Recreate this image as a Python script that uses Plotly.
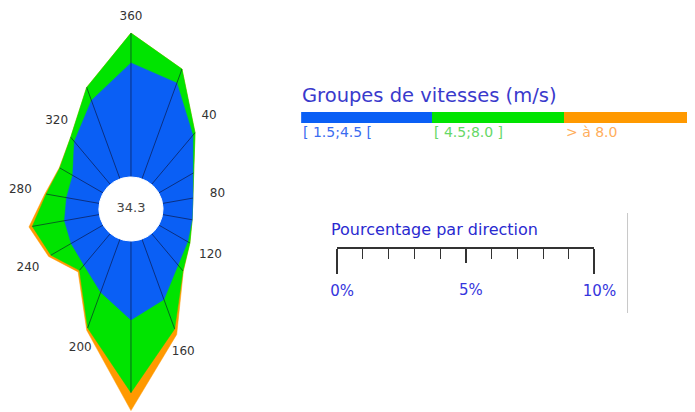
import numpy as np
import plotly.graph_objects as go

# ---------------- data ----------------
directions = [0, 20, 40, 60, 80, 100, 120, 140, 160, 180, 200, 220, 240, 260, 280, 300, 320, 340]
label_dirs = [0, 40, 80, 120, 160, 200, 240, 280, 320]
label_texts = ["360", "40", "80", "120", "160", "200", "240", "280", "320"]
# percentage per direction for each speed class
speed_low = [4.44, 3.97, 2.50, 1.54, 1.20, 1.17, 1.30, 1.60, 2.50, 3.07, 2.20, 1.60, 1.44, 1.38, 1.30, 1.37, 2.18, 3.25]
speed_mid = [1.16, 0.58, 0.13, 0.02, 0.00, 0.00, 0.10, 0.30, 1.22, 2.83, 1.48, 0.27, 0.91, 1.27, 0.80, 0.58, 0.22, 0.54]
speed_high = [0.00, 0.00, 0.00, 0.00, 0.00, 0.00, 0.00, 0.02, 0.23, 0.70, 0.10, 0.08, 0.10, 0.13, 0.05, 0.02, 0.00, 0.00]
calm_pct = 34.3
class_labels = ["[ 1.5;4.5 [", "[ 4.5;8.0 ]", "> à 8.0"]
class_colors = ["#0a5ff5", "#00e400", "#ff9900"]
class_label_colors = ["#3a6cf0", "#66d866", "#ffae5c"]
scale_major = [0, 10]
scale_mid = [5]
legend_title = "Groupes de vitesses (m/s)"
scale_title = "Pourcentage par direction"

# ---------------- geometry / style ----------------
OFF = 8                    # default body margin of the html page
SX, X0 = 0.958, 6.5        # observed horizontal page -> picture mapping
W, H = 709, 404
FONT = "DejaVu Sans"
ppp = 25.7                 # picture pixels per percent
hole_r = 32 / ppp          # calm circle radius (percent units)
rose_cx, rose_cy = 130, 209  # rose centre in the picture


def fig_x(img_x):  # picture px -> figure px
    return (img_x - X0) / SX - OFF


def px(img_x):  # picture px -> paper x
    return fig_x(img_x) / W


def py(img_y):  # picture px -> paper y
    return 1 - (img_y - OFF) / H


cx, cy = fig_x(rose_cx), rose_cy - OFF
pppx = ppp / SX            # horizontal figure px per percent

low = np.array(speed_low)
cum_mid = low + np.array(speed_mid)
cum_high = cum_mid + np.array(speed_high)
ang = np.radians(directions)


def xy(vals, angles):
    rr = hole_r + np.asarray(vals)
    return rr * np.sin(angles), rr * np.cos(angles)


def closed(a):
    a = list(a)
    return a + a[:1]


fig = go.Figure()

for cum, col in [(cum_high, class_colors[2]), (cum_mid, class_colors[1]), (low, class_colors[0])]:
    x, y = xy(cum, ang)
    fig.add_trace(go.Scatter(
        x=closed(x), y=closed(y), mode="lines", fill="toself",
        fillcolor=col, line=dict(color=col, width=0.5),
        hoverinfo="skip", showlegend=False))

# spokes
sx, sy = [], []
x0, y0 = xy(np.zeros(len(directions)), ang)
x1, y1 = xy(cum_mid, ang)
for a, b, c, d in zip(x0, y0, x1, y1):
    sx += [a, c, None]
    sy += [b, d, None]
fig.add_trace(go.Scatter(
    x=sx, y=sy, mode="lines", line=dict(color="rgba(10,15,50,0.75)", width=0.8),
    hoverinfo="skip", showlegend=False))

# white calm circle
ht = np.radians(np.linspace(0, 360, 121))
hx, hy = xy(np.zeros_like(ht), ht)
fig.add_trace(go.Scatter(
    x=hx, y=hy, mode="lines", fill="toself", fillcolor="white",
    line=dict(color="white", width=1), hoverinfo="skip", showlegend=False))

# calm value
fig.add_trace(go.Scatter(
    x=[0], y=[0], mode="text", text=[f"{calm_pct}"], textposition="middle center",
    textfont=dict(family=FONT, size=13, color="#444444"), hoverinfo="skip", showlegend=False))

# direction labels, just outside the outer edge
tot_by_dir = dict(zip(directions, cum_high))
lab_ang = np.radians(label_dirs)
lab_off = (16 + 9 * np.abs(np.sin(lab_ang))) / ppp
lx, ly = xy(np.array([tot_by_dir[d] for d in label_dirs]) + lab_off, lab_ang)
fig.add_trace(go.Scatter(
    x=lx, y=ly, mode="text", text=label_texts, textposition="middle center",
    textfont=dict(family=FONT, size=12, color="#333333"),
    hoverinfo="skip", showlegend=False, cliponaxis=False))

# legend colour bar (stacked bars on hidden axes)
for lab, col in zip(class_labels, class_colors):
    fig.add_trace(go.Bar(
        x=[1], y=[0], orientation="h", width=1, marker=dict(color=col, line=dict(width=0)),
        xaxis="x4", yaxis="y4", hoverinfo="skip", showlegend=False))

# invisible anchors so that the scale axes get drawn
fig.add_trace(go.Scatter(x=[0, 10], y=[0, 0], xaxis="x2", yaxis="y2", mode="markers",
                         marker=dict(opacity=0, size=1), hoverinfo="skip", showlegend=False))
fig.add_trace(go.Scatter(x=[0, 10], y=[0, 0], xaxis="x3", yaxis="y2", mode="markers",
                         marker=dict(opacity=0, size=1), hoverinfo="skip", showlegend=False))

annotations = [
    dict(text=legend_title, x=px(299), y=py(96), xref="paper", yref="paper",
         xanchor="left", yanchor="middle", showarrow=False,
         font=dict(family=FONT, size=19.5, color="#3a3acc")),
    dict(text=scale_title, x=px(328), y=py(229), xref="paper", yref="paper",
         xanchor="left", yanchor="middle", showarrow=False,
         font=dict(family=FONT, size=16, color="#2a2ad0")),
]
for i, (lab, col) in enumerate(zip(class_labels, class_label_colors)):
    annotations.append(dict(text=lab, x=i, xref="x4", y=py(132), yref="paper",
                            xanchor="left", yanchor="middle", showarrow=False,
                            font=dict(family=FONT, size=14, color=col)))

tick_font = dict(family=FONT, size=15, color="#3535dd")

fig.update_layout(
    width=W, height=H, margin=dict(l=0, r=0, t=0, b=0),
    paper_bgcolor="white", plot_bgcolor="rgba(0,0,0,0)",
    font=dict(family=FONT), barmode="stack", bargap=0,
    xaxis=dict(domain=[0, 1], range=[-cx / pppx, (W - cx) / pppx], visible=False,
               showgrid=False, zeroline=False, fixedrange=True),
    yaxis=dict(domain=[0, 1], range=[-(H - cy) / ppp, cy / ppp], visible=False,
               showgrid=False, zeroline=False, fixedrange=True),
    xaxis2=dict(domain=[px(336), px(593)], anchor="y2", range=[0, 10],
                showgrid=False, zeroline=False, showline=True, linecolor="#333333", linewidth=1.5,
                ticks="outside", tickvals=scale_major, ticktext=[f"{v}%" for v in scale_major],
                ticklen=25, tickwidth=1.8, tickcolor="#333333", tickfont=tick_font,
                ticklabelstandoff=4, ticklabelshift=5,
                minor=dict(ticks="outside", dtick=1, ticklen=10, tickwidth=1.2, tickcolor="#333333",
                           showgrid=False),
                fixedrange=True),
    xaxis3=dict(overlaying="x2", anchor="y2", range=[0, 10], showgrid=False, zeroline=False,
                showline=False, ticks="outside", tickvals=scale_mid,
                ticktext=[f"{v}%" for v in scale_mid], ticklen=15, tickwidth=1.5,
                tickcolor="#333333", tickfont=tick_font, ticklabelstandoff=14, ticklabelshift=5,
                fixedrange=True),
    yaxis2=dict(domain=[py(247), py(247) + 0.02], anchor="x2",
                range=[0, 1], visible=False, fixedrange=True),
    xaxis4=dict(domain=[px(300), 1.0], anchor="y4", range=[0, 3], visible=False, fixedrange=True),
    yaxis4=dict(domain=[py(123), py(112)], anchor="x4", range=[-0.5, 0.5],
                visible=False, fixedrange=True),
    annotations=annotations,
    shapes=[dict(type="line", xref="paper", yref="paper", x0=px(626), x1=px(626),
                 y0=py(213), y1=py(313), line=dict(color="#c8c8c8", width=1))],
)

fig.write_html("out.html")
